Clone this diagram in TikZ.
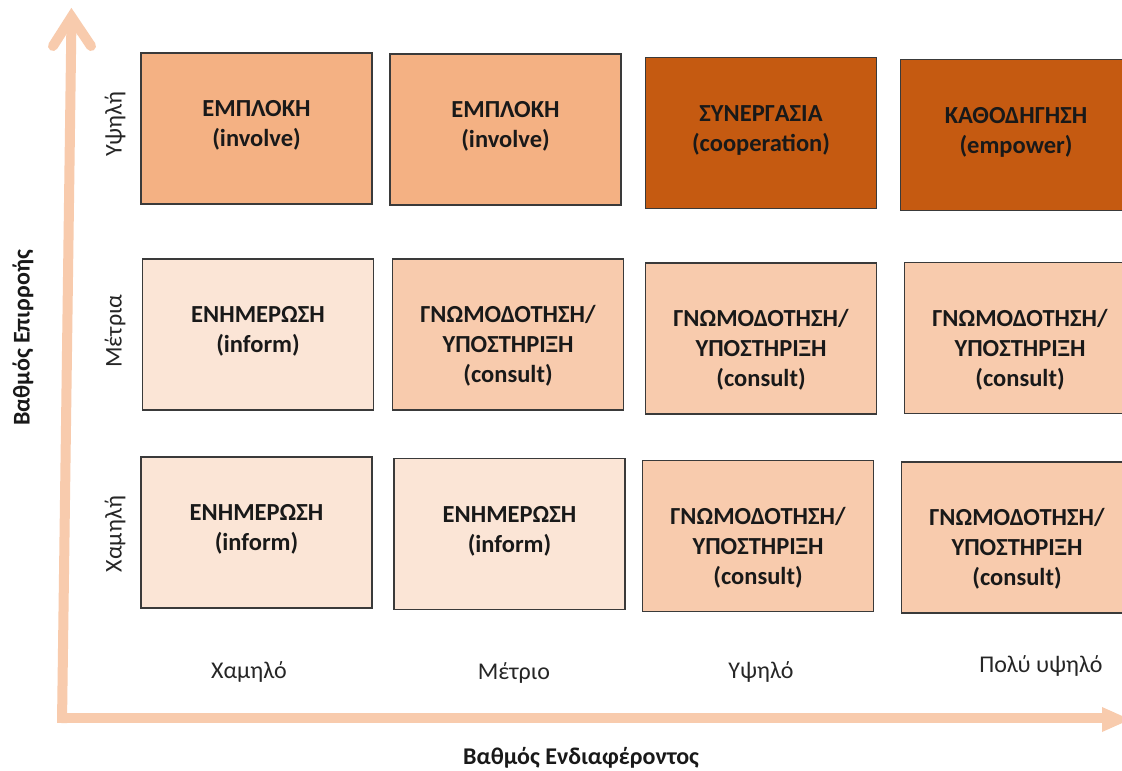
\documentclass[tikz,border=0pt]{standalone}
\usepackage{fontspec}
\setmainfont{Carlito}
\definecolor{cdark}{HTML}{C55A11}
\definecolor{cmed}{HTML}{F4B183}
\definecolor{clmed}{HTML}{F8CBAD}
\definecolor{clight}{HTML}{FBE5D6}
\definecolor{carrow}{HTML}{F8CBAD}
\definecolor{cborder}{HTML}{3A3A3A}
\tikzset{
  cell/.style={draw=cborder, line width=1.3pt, minimum width=231pt, minimum height=151pt, inner sep=0pt},
  celltext/.style={anchor=north, inner sep=0pt, align=center, font=\fontsize{24.5}{30}\selectfont\bfseries, text=black!90},
  axlabel/.style={inner sep=0pt, font=\fontsize{24}{29}\selectfont, text=black!85},
  axtitle/.style={inner sep=0pt, font=\fontsize{24}{29}\selectfont\bfseries, text=black!90},
  axisline/.style={draw=carrow, line width=10pt},
}
\newcommand{\fl}{\rule{0pt}{0.9em}}
\begin{document}
\begin{tikzpicture}[x=1pt, y=-1pt]
\clip (0,0) rectangle (1122,771);
\fill[white] (0,0) rectangle (1122,771);
% axes
\coordinate (corner) at (57,718);
\coordinate (vtop) at (71.5,17);
\coordinate (hend) at (1104,718);
\coordinate (vbot) at (62,723);
\draw[axisline] (vbot) -- (vtop);
\coordinate (armL) at (53,46);
\coordinate (armR) at (91,46);
\draw[axisline, line cap=round, line join=miter] (armL) -- (vtop) -- (armR);
\draw[axisline] (corner) -- (hend);
\coordinate (tipA) at (1102,707);
\coordinate (tipB) at (1130,719.5);
\coordinate (tipC) at (1102,732);
\fill[carrow] (tipA) -- (tipB) -- (tipC) -- cycle;
% boxes
\node[cell, fill=cmed] (b11) at (256.5,128.5) {};
\node[cell, fill=cmed] (b12) at (505.5,129.5) {};
\node[cell, fill=cdark] (b13) at (761,133) {};
\node[cell, fill=cdark] (b14) at (1016,135) {};
\node[cell, fill=clight] (b21) at (258,334.5) {};
\node[cell, fill=clmed] (b22) at (508,334.5) {};
\node[cell, fill=clmed] (b23) at (761,338.5) {};
\node[cell, fill=clmed] (b24) at (1020,338) {};
\node[cell, fill=clight] (b31) at (256.5,532.5) {};
\node[cell, fill=clight] (b32) at (509.5,534) {};
\node[cell, fill=clmed] (b33) at (758,536) {};
\node[cell, fill=clmed] (b34) at (1017,537.5) {};
% texts
\node[celltext] (t11) at ([yshift=-42pt]b11.north) {\fl ΕΜΠΛΟΚΗ\\(involve)};
\node[celltext] (t12) at ([yshift=-42pt]b12.north) {\fl ΕΜΠΛΟΚΗ\\(involve)};
\node[celltext] (t13) at ([yshift=-42pt]b13.north) {\fl ΣΥΝΕΡΓΑΣΙΑ\\(cooperation)};
\node[celltext] (t14) at ([yshift=-42pt]b14.north) {\fl ΚΑΘΟΔΗΓΗΣΗ\\(empower)};
\node[celltext] (t21) at ([yshift=-42pt]b21.north) {\fl ΕΝΗΜΕΡΩΣΗ\\(inform)};
\node[celltext] (t22) at ([yshift=-42pt]b22.north) {\fl ΓΝΩΜΟΔΟΤΗΣΗ/\\ΥΠΟΣΤΗΡΙΞΗ\\(consult)};
\node[celltext] (t23) at ([yshift=-42pt]b23.north) {\fl ΓΝΩΜΟΔΟΤΗΣΗ/\\ΥΠΟΣΤΗΡΙΞΗ\\(consult)};
\node[celltext] (t24) at ([yshift=-42pt]b24.north) {\fl ΓΝΩΜΟΔΟΤΗΣΗ/\\ΥΠΟΣΤΗΡΙΞΗ\\(consult)};
\node[celltext] (t31) at ([yshift=-42pt]b31.north) {\fl ΕΝΗΜΕΡΩΣΗ\\(inform)};
\node[celltext] (t32) at ([yshift=-42pt]b32.north) {\fl ΕΝΗΜΕΡΩΣΗ\\(inform)};
\node[celltext] (t33) at ([yshift=-42pt]b33.north) {\fl ΓΝΩΜΟΔΟΤΗΣΗ/\\ΥΠΟΣΤΗΡΙΞΗ\\(consult)};
\node[celltext] (t34) at ([yshift=-42pt]b34.north) {\fl ΓΝΩΜΟΔΟΤΗΣΗ/\\ΥΠΟΣΤΗΡΙΞΗ\\(consult)};
% axis labels
\node[axlabel, rotate=90] (yl1) at (115,124) {Υψηλή};
\node[axlabel, rotate=90] (yl2) at (115,331) {Μέτρια};
\node[axlabel, rotate=90] (yl3) at (115,534) {Χαμηλή};
\node[axtitle, rotate=90] (ytitle) at (23,338) {Βαθμός Επιρροής};
\node[axlabel] (xl1) at (249,672) {Χαμηλό};
\node[axlabel] (xl2) at (514,673) {Μέτριο};
\node[axlabel] (xl3) at (761,672) {Υψηλό};
\node[axlabel] (xl4) at (1041,666) {Πολύ υψηλό};
\node[axtitle] (xtitle) at (581,758) {Βαθμός Ενδιαφέροντος};
\end{tikzpicture}
\end{document}
